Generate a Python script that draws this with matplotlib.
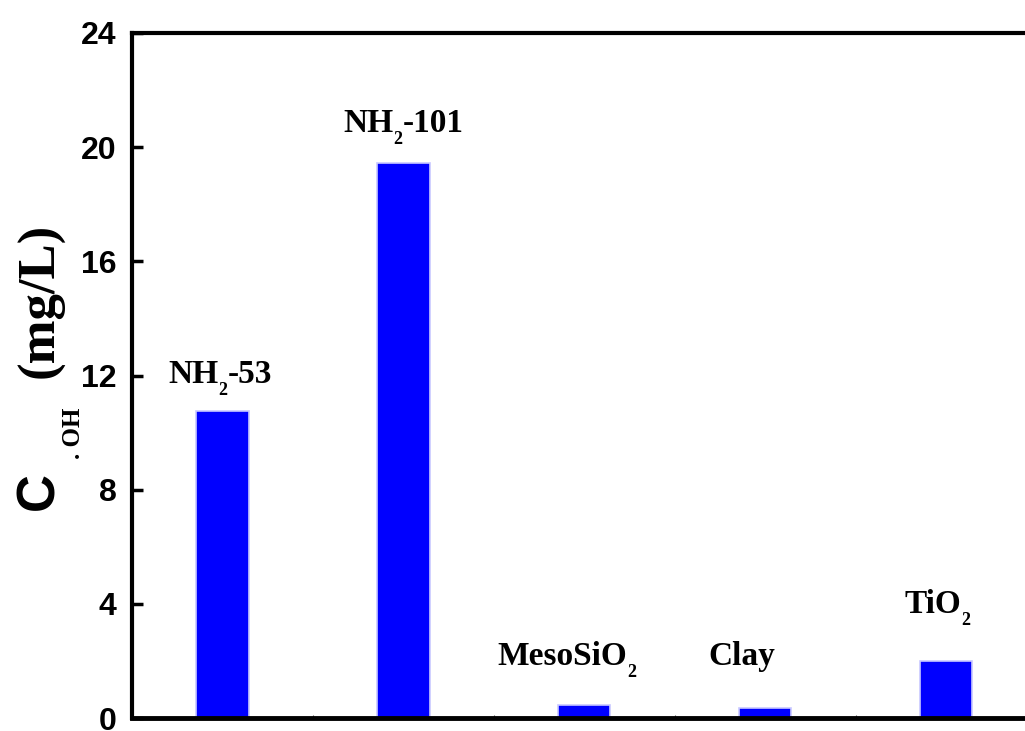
import matplotlib.pyplot as plt
import numpy as np

plt.rcParams.update({
    'font.family': 'Liberation Sans',
    'font.weight': 'bold',
})

BLUE = '#0000FF'
EDGE = '#C8C8FF'

# samples and C(.OH) values in mg/L; labels split as (text, subscript, text)
samples = [('NH', '2', '-53'), ('NH', '2', '-101'), ('MesoSiO', '2', ''),
           ('Clay', '', ''), ('TiO', '2', '')]
conc = [10.76, 19.45, 0.45, 0.35, 2.0]

# label anchors (left edge, baseline height) as drawn in the figure
lab_x = [0.702, 1.669, 2.519, 3.685, 4.773]
lab_y = [11.74, 20.53, 1.86, 1.86, 3.68]

fig = plt.figure(figsize=(10.25, 7.31), dpi=100)
ax = fig.add_axes([132/1025, 13/731, 904.5/1025, 685/731])

x = np.arange(1, len(samples) + 1)
ax.bar(x, conc, 0.29, color=BLUE, edgecolor=EDGE, linewidth=1.2, zorder=2)

serif = dict(family='Liberation Serif', fontweight='bold')
for i, (a, sub, b) in enumerate(samples):
    t = ax.text(lab_x[i], lab_y[i], a, ha='left', va='baseline', fontsize=24, **serif)
    if sub:
        t2 = ax.annotate(sub, xy=(1, 0), xycoords=t, xytext=(0, -6.2),
                         textcoords='offset points', ha='left', va='bottom',
                         fontsize=13, **serif)
        if b:
            ax.annotate(b, xy=(1, 0), xycoords=(t2, t), xytext=(0, 0),
                        textcoords='offset points', ha='left', va='bottom',
                        fontsize=24, **serif)

ax.set_xlim(0.5, 5.5)
ax.set_ylim(0, 24)
ax.set_yticks(np.arange(0, 25, 4))
ax.set_xticks(np.arange(0.5, 5.6, 0.5))
ax.set_xticklabels([])
ax.tick_params(axis='y', direction='in', length=8, width=2.5, pad=11, labelsize=23)
ax.tick_params(axis='x', direction='in', length=2, width=0.8, color='#555555')
for sp in ax.spines.values():
    sp.set_linewidth(3)
ax.spines['bottom'].set_linewidth(3.5)

# y label: C (sans) + .OH subscript + (mg/L) (serif)
W, H = 1025, 731
fig.text(53/W, (H-510)/H, 'C', rotation=90, rotation_mode='anchor',
         ha='left', va='baseline', fontsize=38, family='Liberation Sans', fontweight='bold')
fig.text(80/W, (H-459)/H, '. OH', rotation=90, rotation_mode='anchor',
         ha='left', va='baseline', fontsize=18, **serif)
fig.text(53/W, (H-378)/H, '(mg/L)', rotation=90, rotation_mode='anchor',
         ha='left', va='baseline', fontsize=38, **serif)

fig.savefig('out.png', dpi=100)
